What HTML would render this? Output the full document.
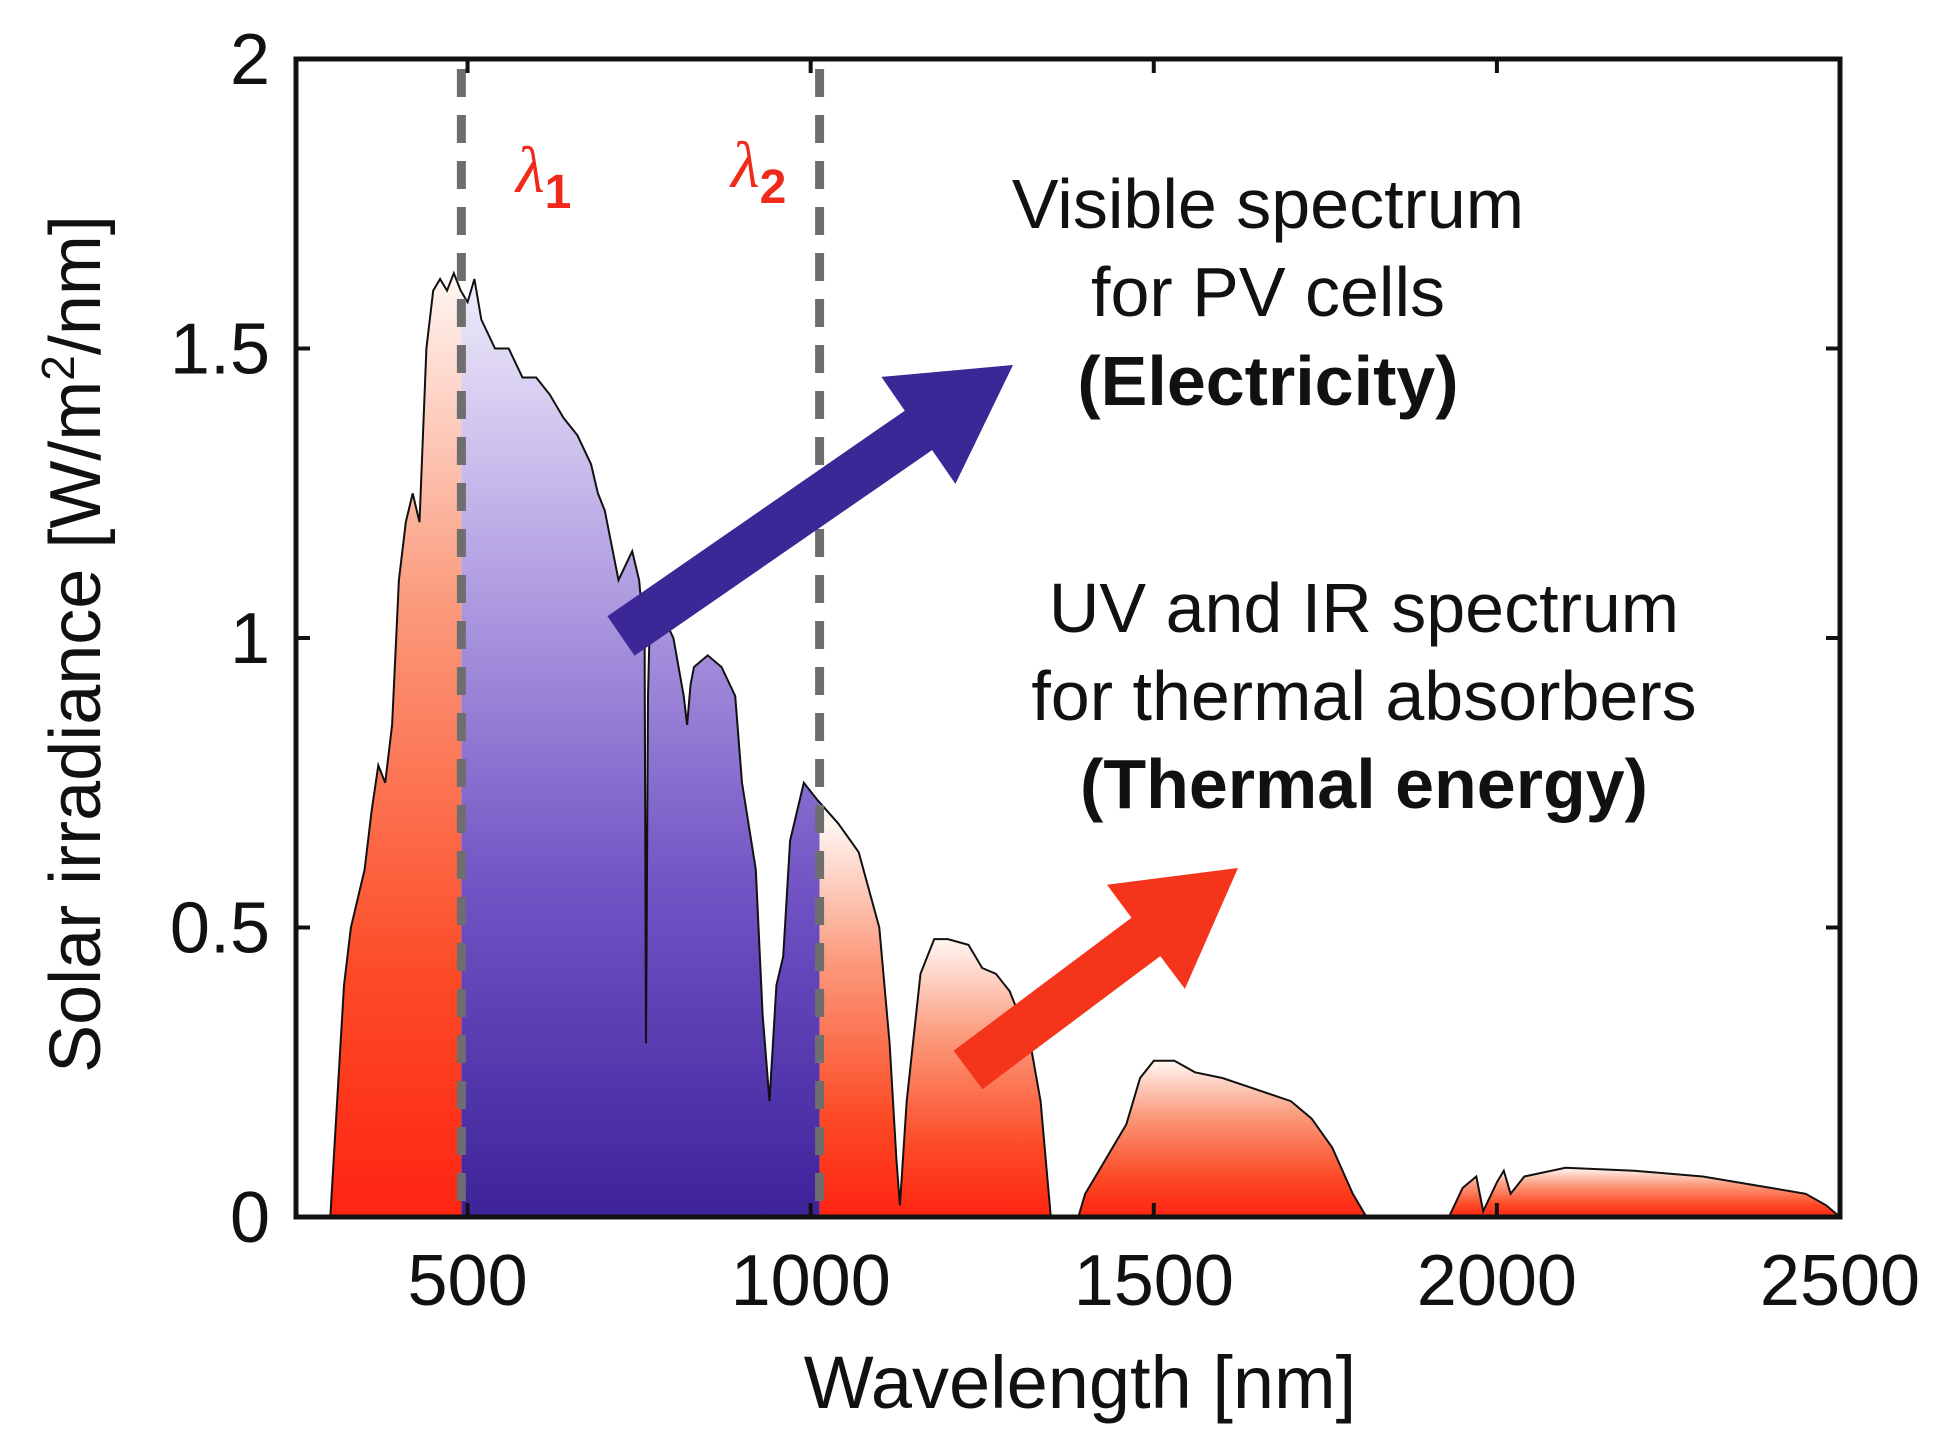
<!DOCTYPE html>
<html><head><meta charset="utf-8"><style>
html,body{margin:0;padding:0;background:#fff;}
svg{display:block;font-family:"Liberation Sans",Arial,sans-serif;}
</style></head><body>
<svg id="chart" width="1960" height="1451" viewBox="0 0 1960 1451" xmlns="http://www.w3.org/2000/svg">
<defs id="defs"></defs>
<g id="fills"></g>
<path id="curve" fill="none" stroke="#111" stroke-width="2"/>
<g id="dashes"></g>
<rect x="296" y="59" width="1544" height="1158" fill="none" stroke="#111" stroke-width="5"/>
<g id="axes"></g>
<text x="516" y="192" fill="#f02a1a" font-size="66" font-style="italic" font-family="Liberation Serif,serif">λ<tspan font-size="48" dy="16" font-family="Liberation Sans,sans-serif" font-style="normal" font-weight="bold">1</tspan></text>
<text x="731" y="187" fill="#f02a1a" font-size="66" font-style="italic" font-family="Liberation Serif,serif">λ<tspan font-size="48" dy="16" font-family="Liberation Sans,sans-serif" font-style="normal" font-weight="bold">2</tspan></text>
<polygon id="arrowBlue" fill="#3b2896"/>
<polygon id="arrowRed" fill="#f5341c"/>
<g font-size="70" text-anchor="middle" fill="#111">
<text x="1268" y="228">Visible spectrum</text>
<text x="1268" y="316">for PV cells</text>
<text x="1268" y="405" font-weight="bold">(Electricity)</text>
</g>
<g font-size="70" text-anchor="middle" fill="#111">
<text x="1364" y="632">UV and IR spectrum</text>
<text x="1364" y="720">for thermal absorbers</text>
<text x="1364" y="808" font-weight="bold">(Thermal energy)</text>
</g>
<text x="1080" y="1408" font-size="74" text-anchor="middle" fill="#111">Wavelength [nm]</text>
<text transform="translate(100,644) rotate(-90)" font-size="72" text-anchor="middle" fill="#111">Solar irradiance [W/m<tspan font-size="46" dy="-26">2</tspan><tspan dy="26">/nm]</tspan></text>
</svg>
<script>
const wavelengths=[300,320,330,350,360,370,380,390,400,410,420,430,440,450,460,470,480,490,500,510,520,540,560,580,600,620,640,660,680,690,700,720,740,750,758,760,763,765,780,800,815,820,825,830,850,870,890,900,920,930,940,950,960,970,990,1010,1040,1070,1100,1115,1125,1130,1140,1160,1180,1200,1230,1250,1270,1290,1320,1335,1350,1390,1400,1420,1440,1460,1480,1500,1530,1560,1600,1650,1700,1730,1760,1790,1810,1930,1950,1970,1980,2000,2010,2020,2040,2100,2200,2300,2400,2450,2480,2500];
const irradiance=[0,0.4,0.5,0.6,0.7,0.78,0.75,0.85,1.1,1.2,1.25,1.2,1.5,1.6,1.62,1.6,1.63,1.6,1.58,1.62,1.55,1.5,1.5,1.45,1.45,1.42,1.38,1.35,1.3,1.25,1.22,1.1,1.15,1.1,1.0,0.3,0.9,1.0,1.05,1.0,0.9,0.85,0.92,0.95,0.97,0.95,0.9,0.75,0.6,0.35,0.2,0.4,0.45,0.65,0.75,0.72,0.68,0.63,0.5,0.3,0.1,0.02,0.2,0.42,0.48,0.48,0.47,0.43,0.42,0.39,0.3,0.2,0.0,0.0,0.04,0.08,0.12,0.16,0.24,0.27,0.27,0.25,0.24,0.22,0.2,0.17,0.12,0.04,0,0,0.05,0.07,0.01,0.06,0.08,0.04,0.07,0.085,0.08,0.07,0.05,0.04,0.02,0];
const xTicks=[500,1000,1500,2000,2500];
const yTicks=[0,0.5,1,1.5,2];
const yTickLabels=["0","0.5","1","1.5","2"];
const lambdas=[491,1013];
const regions=[[250,491,"red"],[491,1013,"purple"],[1013,1128,"red"],[1128,1370,"red"],[1370,1870,"red"],[1870,2500,"red"]];
const X0=296,X1=1840,Y0=1217,Y1=59;
const sx=v=>X0+(v-250)/(2500-250)*(X1-X0);
const sy=v=>Y0-v/2*(Y0-Y1);
const NS="http://www.w3.org/2000/svg";
const mk=(t,a,p)=>{const e=document.createElementNS(NS,t);for(const k in a)e.setAttribute(k,a[k]);p.appendChild(e);return e;};
let d="M"+sx(wavelengths[0])+","+sy(0);
wavelengths.forEach((w,i)=>{d+=" L"+sx(w).toFixed(1)+","+sy(irradiance[i]).toFixed(1);});
const area=d+" L"+sx(wavelengths[wavelengths.length-1])+","+sy(0)+" Z";
document.getElementById('curve').setAttribute('d',d.replace(/^M[^L]*L/,'M'));
const defs=document.getElementById('defs'),fills=document.getElementById('fills');
regions.forEach((r,i)=>{
  let mx=0;wavelengths.forEach((w,j)=>{if(w>=r[0]&&w<=r[1])mx=Math.max(mx,irradiance[j]);});
  const g=mk('linearGradient',{id:'g'+i,gradientUnits:'userSpaceOnUse',x1:0,x2:0,y1:sy(mx),y2:sy(0)},defs);
  const stops=r[2]==="red"?[[0,"#fff6f2"],[0.35,"#fb9a7c"],[0.75,"#fc4a25"],[1,"#ff2412"]]:[[0,"#efecfa"],[0.3,"#b6a4e4"],[0.65,"#7153c4"],[1,"#3d229a"]];
  stops.forEach(s=>mk('stop',{offset:s[0],'stop-color':s[1]},g));
  const cp=mk('clipPath',{id:'c'+i},defs);
  mk('rect',{x:sx(r[0]),y:0,width:sx(r[1])-sx(r[0]),height:Y0},cp);
  const p=mk('path',{d:area,fill:'url(#g'+i+')','clip-path':'url(#c'+i+')'},fills);
  
  
});
const dg=document.getElementById('dashes');
lambdas.forEach(l=>{
  const ln=mk('line',{x1:sx(l),x2:sx(l),y1:Y1+10,y2:Y0,stroke:'#6e6e6e','stroke-width':9,'stroke-dasharray':'28 18'},dg);
  
  
});
const ax=document.getElementById('axes');
xTicks.forEach(t=>{
  const a=mk('line',{x1:sx(t),x2:sx(t),y1:Y0,y2:Y0-14,stroke:'#111','stroke-width':4},ax);
  
  const b=mk('line',{x1:sx(t),x2:sx(t),y1:Y1,y2:Y1+14,stroke:'#111','stroke-width':4},ax);
  
  const tx=mk('text',{x:sx(t),y:Y0+88,'font-size':72,'text-anchor':'middle',fill:'#111'},ax);
  tx.textContent=t;
  
});
yTicks.forEach((t,i)=>{
  const a=mk('line',{x1:X0,x2:X0+14,y1:sy(t),y2:sy(t),stroke:'#111','stroke-width':4},ax);
  
  const b=mk('line',{x1:X1,x2:X1-14,y1:sy(t),y2:sy(t),stroke:'#111','stroke-width':4},ax);
  
  const tx=mk('text',{x:X0-26,y:sy(t)+25,'font-size':72,'text-anchor':'end',fill:'#111'},ax);
  tx.textContent=yTickLabels[i];
  
});
function arrow(id,x0,y0,x1,y1,sw,hw,hl){
  const dx=x1-x0,dy=y1-y0,L=Math.hypot(dx,dy),ux=dx/L,uy=dy/L,nx=-uy,ny=ux;
  const bx=x1-ux*hl,by=y1-uy*hl;
  const pts=[[x0+nx*sw/2,y0+ny*sw/2],[bx+nx*sw/2,by+ny*sw/2],[bx+nx*hw/2,by+ny*hw/2],[x1,y1],[bx-nx*hw/2,by-ny*hw/2],[bx-nx*sw/2,by-ny*sw/2],[x0-nx*sw/2,y0-ny*sw/2]];
  document.getElementById(id).setAttribute('points',pts.map(p=>p[0].toFixed(1)+","+p[1].toFixed(1)).join(" "));
}
arrow('arrowBlue',621,636,1013,365,48,130,115);
arrow('arrowRed',968,1070,1238,868,48,130,115);
</script>
</body></html>
